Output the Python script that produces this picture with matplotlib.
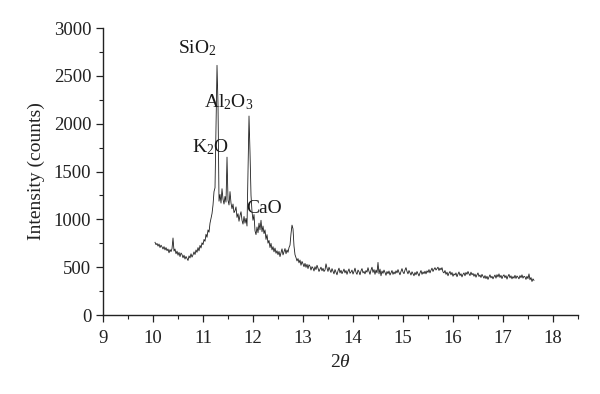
import numpy as np
import matplotlib
matplotlib.use("Agg")
import matplotlib.pyplot as plt
from matplotlib.ticker import MultipleLocator

plt.rcParams['font.family'] = ['Liberation Serif', 'DejaVu Serif']
plt.rcParams['mathtext.fontset'] = 'custom'
plt.rcParams['mathtext.rm'] = 'Liberation Serif'
plt.rcParams['mathtext.it'] = 'Liberation Serif:italic'

# 2-theta sampling grid (start, step)
two_theta_start = 10.04
two_theta_step = 0.02

intensity = [
    760, 735, 748, 720, 742, 705, 730, 712, 690, 715,
    680, 705, 672, 690, 650, 684, 662, 695, 805, 668,
    690, 640, 668, 625, 655, 610, 648, 632, 598, 625,
    585, 612, 590, 570, 618, 596, 640, 605, 628, 660,
    632, 680, 655, 705, 670, 728, 700, 755, 735, 790,
    770, 845, 812, 890, 865, 960, 1010, 1060, 1150, 1290,
    1330, 1950, 2610, 2200, 1190, 1260, 1170, 1320, 1210, 1160,
    1240, 1180, 1650, 1200, 1150, 1290, 1170, 1110, 1160, 1070,
    1090, 1130, 1020, 1060, 980, 1040, 1080, 990, 950, 1030,
    960, 1010, 930, 1500, 2080, 1700, 1250, 1080, 990, 1050,
    880, 840, 920, 860, 960, 890, 990, 870, 930, 850,
    890, 790, 840, 750, 780, 705, 750, 680, 715, 660,
    700, 645, 672, 630, 665, 610, 650, 692, 628, 660,
    695, 640, 680, 655, 705, 730, 850, 940, 900, 720,
    630, 600, 565, 590, 545, 575, 520, 560, 535, 505,
    540, 498, 530, 485, 525, 510, 470, 505, 490, 460,
    505, 475, 520, 490, 455, 480, 500, 462, 488, 455,
    470, 535, 490, 455, 500, 470, 445, 485, 458, 430,
    475, 448, 420, 462, 490, 440, 468, 432, 455, 480,
    440, 465, 425, 458, 482, 436, 450, 470, 428, 455,
    490, 445, 425, 470, 452, 420, 462, 485, 440, 455,
    430, 465, 448, 495, 455, 425, 470, 500, 445, 475,
    425, 470, 440, 550, 430, 480, 410, 460, 435, 470,
    445, 415, 455, 432, 460, 418, 440, 465, 425, 450,
    430, 462, 440, 475, 445, 420, 455, 485, 448, 432,
    470, 495, 455, 430, 465, 440, 418, 452, 430, 410,
    445, 420, 455, 430, 408, 440, 465, 425, 450, 432,
    458, 430, 462, 445, 475, 440, 468, 490, 455, 478,
    495, 470, 485, 500, 465, 490, 472, 495, 450, 440,
    465, 425, 448, 410, 438, 455, 420, 445, 405, 430,
    418, 440, 400, 428, 450, 412, 432, 398, 425, 440,
    410, 445, 425, 455, 430, 412, 448, 420, 435, 405,
    428, 395, 420, 440, 402, 418, 392, 425, 405, 385,
    412, 380, 405, 372, 398, 420, 388, 405, 378, 400,
    418, 385, 422, 398, 430, 392, 415, 380, 408, 420,
    390, 412, 375, 405, 425, 388, 410, 378, 402, 385,
    415, 382, 408, 395, 378, 412, 390, 420, 385, 405,
    398, 372, 405, 380, 430, 368, 392, 350, 378, 362,
]

two_theta = np.round(two_theta_start + two_theta_step * np.arange(len(intensity)), 2)

labels = [r"SiO$_2$", r"Al$_2$O$_3$", r"K$_2$O", r"CaO"]
label_x = [10.89, 11.51, 11.14, 12.22]
label_y = [2790, 2225, 1755, 1110]

fig = plt.figure(figsize=(6.0, 3.94), dpi=100)
ax = fig.add_axes([0.1717, 0.2005, 0.7916, 0.7284])
ax.plot(two_theta, intensity, color='#1e1e1e', linewidth=0.6)

for t, x, y in zip(labels, label_x, label_y):
    ax.text(x, y, t, ha='center', va='center', fontsize=14, color='#1a1a1a')

ax.set_xlim(9, 18.5)
ax.set_ylim(0, 3000)
ax.xaxis.set_major_locator(MultipleLocator(1))
ax.xaxis.set_minor_locator(MultipleLocator(0.5))
ax.yaxis.set_major_locator(MultipleLocator(500))
ax.yaxis.set_minor_locator(MultipleLocator(250))
ax.set_xticks([9, 10, 11, 12, 13, 14, 15, 16, 17, 18])

for s in ['top', 'right']:
    ax.spines[s].set_visible(False)
for s in ['left', 'bottom']:
    ax.spines[s].set_color('#222222')
    ax.spines[s].set_linewidth(1.0)

ax.tick_params(which='major', direction='out', length=5, width=0.9, colors='#222222',
               labelsize=13.5, labelcolor='#222222')
ax.tick_params(which='minor', direction='out', length=3, width=0.8, colors='#222222')
ax.tick_params(axis='x', pad=6)

ax.set_ylabel("Intensity (counts)", fontsize=14, color='#222222', labelpad=6)
ax.set_xlabel(r"$2\theta$", fontsize=14, color='#222222', labelpad=5)

fig.savefig("out.png", dpi=100)
